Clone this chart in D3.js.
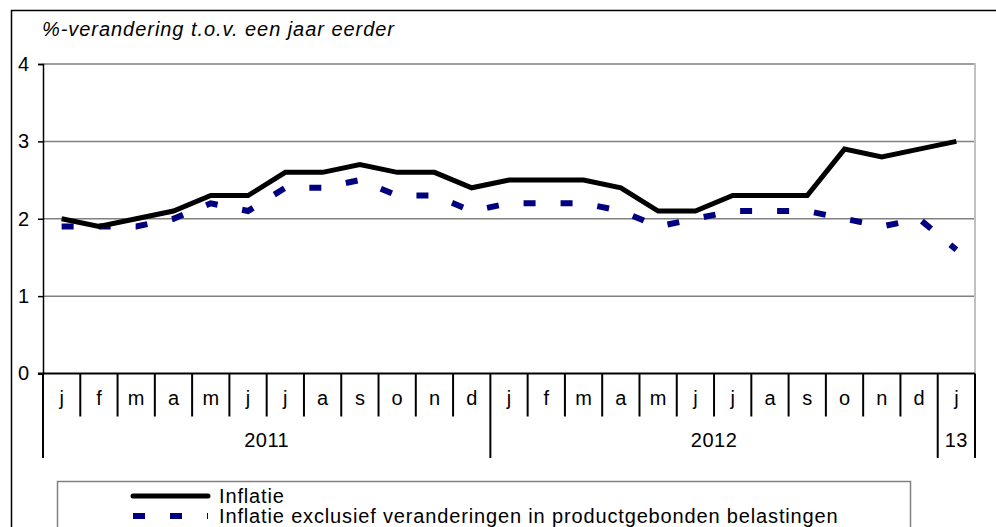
<!DOCTYPE html>
<html>
<head>
<meta charset="utf-8">
<script src="https://cdn.jsdelivr.net/npm/d3@7"></script>
<style>
  html, body { margin: 0; padding: 0; background: #fff; }
  svg { display: block; font-family: "Liberation Sans", Arial, sans-serif; }
</style>
</head>
<body>
<svg id="chart" width="996" height="527"></svg>
<script>
const months = ["j","f","m","a","m","j","j","a","s","o","n","d",
                "j","f","m","a","m","j","j","a","s","o","n","d",
                "j"];
const inflatie = [2.0,1.9,2.0,2.1,2.3,2.3,2.6,2.6,2.7,2.6,2.6,2.4,
                  2.5,2.5,2.5,2.4,2.1,2.1,2.3,2.3,2.3,2.9,2.8,2.9,
                  3.0];
const exclTax  = [1.9,1.9,1.9,2.0,2.2,2.1,2.4,2.4,2.5,2.3,2.3,2.1,
                  2.2,2.2,2.2,2.1,1.9,2.0,2.1,2.1,2.1,2.0,1.9,2.0,
                  1.6];
const years = [{label:"2011", start:0, end:12},
               {label:"2012", start:12, end:24},
               {label:"13", start:24, end:25}];
const yTicks = [0,1,2,3,4];
const titleText = "%-verandering t.o.v. een jaar eerder";
const legendLabels = ["Inflatie", "Inflatie exclusief veranderingen in productgebonden belastingen"];

const svg = d3.select("#chart");
const L = 43, R = 975, T = 64, B = 373.5;

svg.append("rect").attr("width",996).attr("height",527).attr("fill","#fff");
// outer frame
svg.append("rect").attr("x",11.5).attr("y",10.5).attr("width",1100).attr("height",600)
  .attr("fill","none").attr("stroke","#000").attr("stroke-width",1.5);

const x = d3.scaleBand().domain(d3.range(months.length)).range([L, R]).paddingInner(0).paddingOuter(0);
const y = d3.scaleLinear().domain([0,4]).range([B, T]);

// gridlines
svg.append("g").selectAll("line").data(yTicks.filter(d=>d>0)).join("line")
  .attr("x1",L).attr("x2",R).attr("y1",d=>y(d)).attr("y2",d=>y(d))
  .attr("stroke","#808080").attr("stroke-width",1.5);

// right border
svg.append("line").attr("x1",R).attr("x2",R).attr("y1",T-1).attr("y2",B)
  .attr("stroke","#c0c0c0").attr("stroke-width",2);

// y axis
const yAxis = d3.axisLeft(y).tickValues(yTicks).tickSize(5).tickPadding(9).tickFormat(d3.format("d"));
const gy = svg.append("g").attr("transform",`translate(${L},0)`).call(yAxis);
gy.select(".domain").attr("stroke","#000").attr("stroke-width",1.5);
gy.selectAll(".tick line").attr("stroke","#000").attr("stroke-width",1.5);
gy.selectAll(".tick text").attr("font-size",20).attr("fill","#000")
  .attr("font-family","Liberation Sans, Arial, sans-serif");

// x axis line
svg.append("line").attr("x1",L-5).attr("x2",R).attr("y1",B).attr("y2",B)
  .attr("stroke","#000").attr("stroke-width",2);

// category separators
const bounds = d3.range(months.length + 1);
const yearBounds = new Set(years.flatMap(d=>[d.start,d.end]));
svg.append("g").selectAll("line").data(bounds).join("line")
  .attr("x1",i=> i===months.length ? R : x(i)).attr("x2",i=> i===months.length ? R : x(i))
  .attr("y1",B).attr("y2",i=> yearBounds.has(i) ? 458 : 416.5)
  .attr("stroke","#000").attr("stroke-width",2);

// month labels
svg.append("g").selectAll("text").data(months).join("text")
  .attr("x",(d,i)=>x(i)+x.bandwidth()/2).attr("y",405)
  .attr("text-anchor","middle").attr("font-size",20).attr("fill","#000")
  .text(d=>d);

// year labels
svg.append("g").selectAll("text").data(years).join("text")
  .attr("x",d=> (x(d.start) + (d.end===months.length ? R : x(d.end)))/2).attr("y",447)
  .attr("text-anchor","middle").attr("font-size",20).attr("fill","#000")
  .attr("letter-spacing",0.5)
  .text(d=>d.label);

// title
svg.append("text").attr("x",42).attr("y",36).attr("font-size",20).attr("font-style","italic")
  .attr("letter-spacing",0.95)
  .attr("fill","#000").text(titleText);

// lines
const line = vals => d3.line().x((d,i)=>x(i)+x.bandwidth()/2).y(d=>y(d))(vals);
svg.append("path").attr("d",line(exclTax)).attr("fill","none")
  .attr("stroke","#000080").attr("stroke-width",6).attr("stroke-dasharray","12,25");
svg.append("path").attr("d",line(inflatie)).attr("fill","none")
  .attr("stroke","#000").attr("stroke-width",5).attr("stroke-linejoin","miter");

// legend
svg.append("rect").attr("x",57.5).attr("y",481.5).attr("width",853).attr("height",80)
  .attr("fill","#fff").attr("stroke","#808080").attr("stroke-width",1.5);
svg.append("line").attr("x1",133).attr("x2",208).attr("y1",496).attr("y2",496)
  .attr("stroke","#000").attr("stroke-width",5).attr("stroke-linecap","round");
svg.append("line").attr("x1",133).attr("x2",208).attr("y1",516).attr("y2",516)
  .attr("stroke","#000080").attr("stroke-width",6).attr("stroke-dasharray","12,25");
svg.append("g").selectAll("text").data(legendLabels).join("text")
  .attr("x",219).attr("y",(d,i)=>503 + i*20).attr("font-size",20).attr("fill","#000")
  .attr("letter-spacing",0.85)
  .text(d=>d);
</script>
</body>
</html>
